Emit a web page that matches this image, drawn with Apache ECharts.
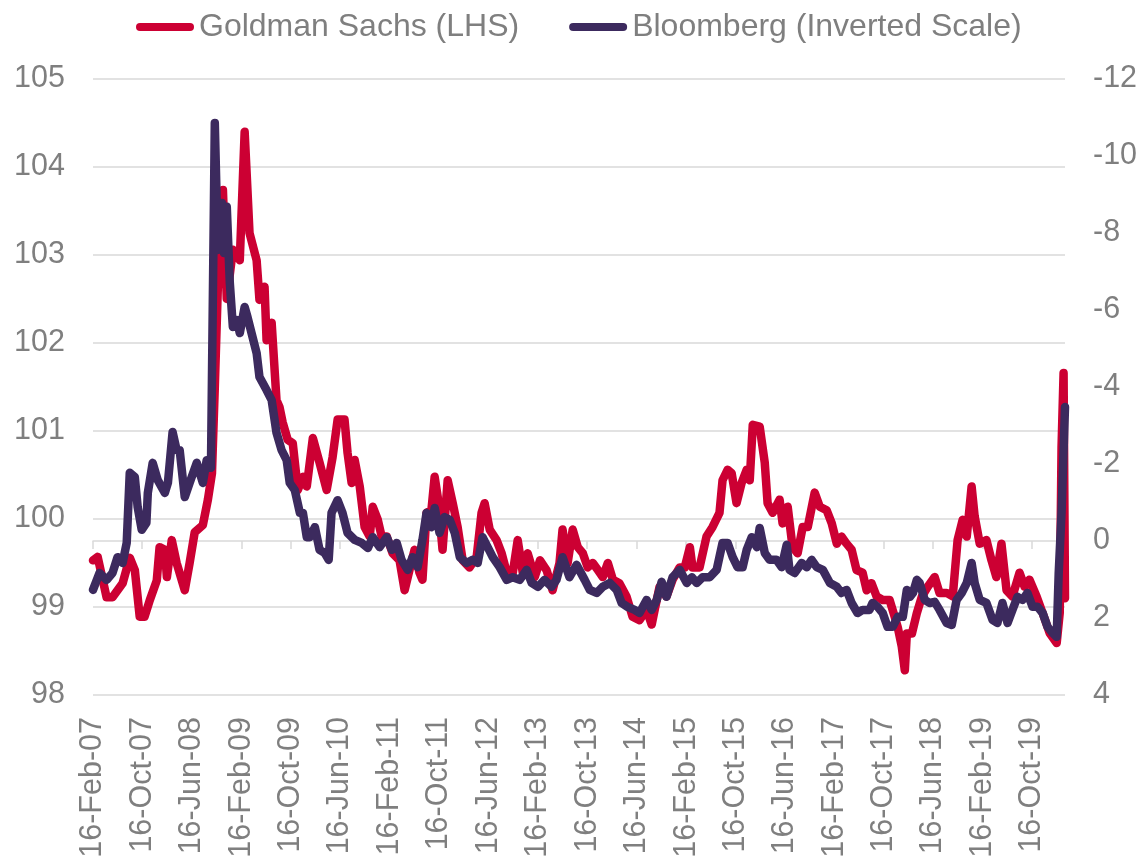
<!DOCTYPE html>
<html>
<head>
<meta charset="utf-8">
<script src="https://cdn.jsdelivr.net/npm/echarts@6/dist/echarts.min.js"></script>
<style>
html,body{margin:0;padding:0;background:#fff;}
#chart{width:1147px;height:862px;}
</style>
</head>
<body>
<div id="chart"></div>
<script>
// ---- Data ----
const seriesNames = ['Goldman Sachs (LHS)', 'Bloomberg (Inverted Scale)'];

const gsDates = ['2007-02-16','2007-03-11','2007-04-24','2007-05-23','2007-07-12','2007-08-16','2007-09-10','2007-10-04','2007-10-28','2007-11-23','2007-12-27','2008-01-10','2008-02-05','2008-02-15','2008-03-10','2008-04-03','2008-05-13','2008-06-06','2008-07-01','2008-08-10','2008-09-04','2008-09-24','2008-10-08','2008-10-23','2008-11-02','2008-11-17','2008-12-06','2009-01-05','2009-02-08','2009-03-04','2009-03-28','2009-05-02','2009-05-16','2009-06-10','2009-06-20','2009-07-15','2009-08-08','2009-08-23','2009-09-07','2009-10-02','2009-10-27','2009-11-21','2009-12-16','2010-01-04','2010-02-03','2010-03-08','2010-04-12','2010-05-11','2010-06-05','2010-07-09','2010-07-24','2010-08-13','2010-08-28','2010-09-22','2010-10-16','2010-11-10','2010-11-25','2010-12-20','2011-01-08','2011-02-02','2011-03-03','2011-04-06','2011-05-01','2011-05-25','2011-06-19','2011-07-13','2011-07-28','2011-08-17','2011-09-10','2011-09-26','2011-10-11','2011-11-04','2011-11-29','2011-12-24','2012-01-17','2012-02-11','2012-03-16','2012-04-20','2012-05-14','2012-05-29','2012-06-23','2012-07-27','2012-08-21','2012-09-15','2012-10-15','2012-11-08','2012-12-03','2012-12-27','2013-01-31','2013-02-26','2013-03-30','2013-04-29','2013-06-02','2013-06-17','2013-07-12','2013-08-06','2013-08-31','2013-09-25','2013-10-19','2013-11-13','2013-12-08','2014-01-01','2014-01-26','2014-02-20','2014-03-24','2014-04-28','2014-05-28','2014-07-01','2014-08-05','2014-08-30','2014-09-14','2014-10-08','2014-11-11','2014-12-11','2015-01-15','2015-02-09','2015-03-06','2015-03-19','2015-04-23','2015-05-27','2015-06-26','2015-07-30','2015-08-14','2015-09-08','2015-09-28','2015-10-22','2015-11-16','2015-12-11','2015-12-26','2016-01-10','2016-02-13','2016-03-09','2016-03-23','2016-04-17','2016-05-21','2016-06-05','2016-06-30','2016-07-24','2016-08-18','2016-09-12','2016-10-07','2016-11-10','2016-12-05','2017-01-08','2017-02-02','2017-02-27','2017-03-22','2017-04-16','2017-05-11','2017-06-04','2017-07-04','2017-07-24','2017-08-17','2017-09-11','2017-10-11','2017-11-14','2017-12-09','2017-12-24','2018-01-13','2018-01-28','2018-02-07','2018-03-04','2018-03-28','2018-04-22','2018-05-21','2018-06-24','2018-07-18','2018-08-22','2018-09-21','2018-10-15','2018-11-09','2018-11-29','2018-12-23','2019-01-07','2019-02-01','2019-03-06','2019-03-31','2019-04-24','2019-05-19','2019-06-13','2019-07-12','2019-08-16','2019-09-10','2019-10-04','2019-11-08','2019-12-08','2020-01-12','2020-02-15','2020-03-01','2020-03-10','2020-03-20','2020-03-27'];
const gsValues = [99.53,99.57,99.11,99.11,99.27,99.56,99.42,98.89,98.89,99.08,99.30,99.68,99.65,99.34,99.76,99.50,99.19,99.50,99.85,99.93,100.22,100.52,101.50,102.64,102.86,103.74,102.50,103.06,102.94,104.40,103.25,102.94,102.49,102.64,102.03,102.23,101.35,101.27,101.10,100.90,100.86,100.33,100.48,100.37,100.92,100.64,100.33,100.70,101.13,101.13,100.75,100.41,100.67,100.37,99.91,99.80,100.14,99.99,99.80,99.80,99.61,99.53,99.19,99.42,99.65,99.39,99.31,100.07,100.10,100.48,100.25,99.65,100.44,100.18,99.91,99.53,99.45,99.57,100.07,100.18,99.88,99.76,99.61,99.39,99.39,99.76,99.39,99.61,99.34,99.53,99.42,99.19,99.50,99.88,99.50,99.88,99.68,99.61,99.45,99.50,99.42,99.34,99.50,99.31,99.27,99.12,98.89,98.85,98.97,98.80,98.97,99.23,99.12,99.31,99.45,99.45,99.68,99.45,99.45,99.80,99.91,100.07,100.44,100.56,100.52,100.18,100.41,100.56,100.44,101.07,101.05,100.64,100.18,100.07,100.22,99.95,100.14,99.68,99.61,99.91,99.91,100.30,100.14,100.10,99.95,99.72,99.80,99.72,99.65,99.42,99.39,99.19,99.27,99.12,99.08,99.08,98.89,98.77,98.55,98.28,98.70,98.70,98.93,99.12,99.23,99.34,99.16,99.16,99.12,99.76,99.99,99.80,100.37,100.03,99.72,99.76,99.53,99.34,99.72,99.19,99.12,99.39,99.23,99.31,99.12,98.93,98.70,98.59,98.93,100.82,101.66,99.10];

const bbDates = ['2007-02-16','2007-03-20','2007-04-24','2007-05-23','2007-06-17','2007-07-12','2007-08-01','2007-08-16','2007-09-10','2007-09-24','2007-10-14','2007-11-06','2007-11-13','2007-12-07','2008-01-01','2008-02-05','2008-02-20','2008-03-14','2008-04-03','2008-04-18','2008-05-13','2008-06-06','2008-07-11','2008-08-10','2008-08-29','2008-09-19','2008-10-08','2008-10-23','2008-11-12','2008-11-22','2008-12-06','2008-12-21','2009-01-05','2009-01-25','2009-02-08','2009-03-04','2009-03-18','2009-04-07','2009-05-02','2009-05-16','2009-06-20','2009-07-15','2009-08-08','2009-09-02','2009-09-27','2009-10-12','2009-11-06','2009-12-01','2009-12-16','2010-01-04','2010-01-19','2010-02-13','2010-03-08','2010-04-02','2010-04-22','2010-05-06','2010-06-05','2010-06-29','2010-07-24','2010-08-28','2010-10-02','2010-11-01','2010-11-25','2010-12-29','2011-02-02','2011-02-27','2011-03-23','2011-04-16','2011-05-16','2011-06-09','2011-07-04','2011-07-28','2011-08-17','2011-09-10','2011-09-26','2011-10-20','2011-11-14','2011-12-09','2012-01-03','2012-01-28','2012-03-01','2012-03-31','2012-04-25','2012-05-19','2012-06-13','2012-07-08','2012-08-11','2012-09-15','2012-10-15','2012-11-18','2012-12-22','2013-01-16','2013-02-16','2013-03-20','2013-04-24','2013-05-18','2013-06-17','2013-07-21','2013-08-25','2013-10-04','2013-10-29','2013-12-02','2014-01-01','2014-02-05','2014-03-11','2014-04-04','2014-05-03','2014-06-07','2014-07-01','2014-08-05','2014-08-30','2014-09-24','2014-10-18','2014-11-11','2014-12-11','2015-01-15','2015-02-19','2015-03-16','2015-04-09','2015-05-08','2015-06-12','2015-07-16','2015-08-14','2015-09-08','2015-10-03','2015-10-27','2015-11-21','2015-12-11','2016-01-05','2016-01-30','2016-02-13','2016-03-09','2016-04-02','2016-05-06','2016-05-31','2016-06-25','2016-07-09','2016-08-03','2016-09-07','2016-10-02','2016-10-26','2016-11-20','2016-12-20','2017-01-24','2017-02-27','2017-03-22','2017-04-16','2017-05-11','2017-06-09','2017-07-04','2017-08-07','2017-08-22','2017-09-16','2017-10-11','2017-11-04','2017-11-29','2017-12-24','2018-01-18','2018-02-07','2018-02-22','2018-03-09','2018-03-28','2018-04-11','2018-05-06','2018-05-30','2018-06-24','2018-07-18','2018-08-22','2018-09-16','2018-10-10','2018-11-04','2018-11-29','2018-12-23','2019-01-07','2019-02-01','2019-03-06','2019-04-05','2019-04-29','2019-05-24','2019-06-18','2019-07-12','2019-08-06','2019-08-31','2019-09-24','2019-10-19','2019-11-13','2019-12-08','2020-01-01','2020-01-26','2020-02-15','2020-02-25','2020-03-10','2020-03-27'];
const bbValues = [1.27,0.83,1.01,0.83,0.42,0.57,0.05,-1.77,-1.66,-0.88,-0.29,-0.47,-1.25,-2.03,-1.58,-1.25,-1.51,-2.83,-2.36,-2.36,-1.14,-1.51,-2.03,-1.51,-2.10,-1.90,-10.86,-7.56,-8.78,-7.48,-8.68,-6.70,-5.56,-5.74,-5.40,-6.08,-5.82,-5.40,-4.88,-4.26,-3.92,-3.66,-2.81,-2.36,-2.10,-1.51,-1.32,-0.73,-0.73,-0.10,-0.10,-0.36,0.23,0.31,0.49,-0.73,-1.06,-0.73,-0.21,-0.03,0.05,0.18,-0.10,0.16,-0.10,0.23,0.05,0.49,0.75,0.42,0.68,-0.03,-0.73,-0.36,-0.86,-0.21,-0.62,-0.55,-0.21,0.42,0.57,0.49,0.57,-0.10,0.16,0.42,0.68,1.01,0.94,1.01,0.75,1.09,1.19,1.01,1.19,1.01,0.42,0.94,0.62,1.01,1.27,1.35,1.19,1.09,1.27,1.61,1.71,1.79,1.87,1.53,1.79,1.53,1.06,1.45,0.94,0.75,1.09,0.94,1.09,0.94,0.94,0.75,0.05,0.05,0.42,0.68,0.68,0.23,-0.10,0.16,-0.34,0.31,0.49,0.49,0.68,0.10,0.75,0.83,0.57,0.68,0.49,0.68,0.75,1.09,1.19,1.35,1.27,1.61,1.87,1.79,1.79,1.61,1.71,1.87,2.23,2.23,1.97,1.97,1.27,1.45,1.35,1.01,1.09,1.53,1.61,1.58,1.79,2.13,2.18,1.53,1.35,1.09,0.57,1.09,1.53,1.61,2.05,2.13,1.61,2.13,1.79,1.45,1.53,1.35,1.71,1.71,1.87,2.23,2.39,2.49,0.83,-0.73,-3.48];

// axis range and tick labels (16th of every 8th month)
const axisStart = '2007-02-16';
const axisEnd = '2020-03-27';
const tickDates = ['2007-02-16','2007-10-16','2008-06-16','2009-02-16','2009-10-16','2010-06-16','2011-02-16','2011-10-16','2012-06-16','2013-02-16','2013-10-16','2014-06-16','2015-02-16','2015-10-16','2016-06-16','2017-02-16','2017-10-16','2018-06-16','2019-02-16','2019-10-16'];
const monthNames = ['Jan','Feb','Mar','Apr','May','Jun','Jul','Aug','Sep','Oct','Nov','Dec'];

function ts(s) {
  const p = s.split('-').map(Number);
  return Date.UTC(p[0], p[1] - 1, p[2]);
}
function fmt(v) {
  const d = new Date(Math.round(v));
  return d.getUTCDate() + '-' + monthNames[d.getUTCMonth()] + '-' + String(d.getUTCFullYear()).slice(2);
}

const FONT = "'Liberation Sans', Arial, sans-serif";
const GREY = '#7f7f7f';
const GRID = '#d9d9d9';
const RED = '#cc0033';
const PURPLE = '#3c2a5e';

const chart = echarts.init(document.getElementById('chart'), null, {renderer: 'canvas'});
const tickTs = tickDates.map(ts);

chart.setOption({
  animation: false,
  backgroundColor: '#ffffff',
  textStyle: {fontFamily: FONT},
  legend: {
    left: 131,
    top: 6,
    itemWidth: 58,
    itemHeight: 8,
    itemGap: 50,
    icon: 'path://M4,0 L54,0 A4,4 0 0 1 54,8 L4,8 A4,4 0 0 1 4,0 Z',
    textStyle: {fontSize: 32, color: GREY, fontFamily: FONT},
    data: seriesNames
  },
  grid: {left: 93, right: 82, top: 79, bottom: 167, containLabel: false},
  xAxis: {
    type: 'value',
    min: ts(axisStart),
    max: ts(axisEnd),
    axisLine: {show: true, lineStyle: {color: GRID, width: 1.5}},
    axisTick: {show: true, customValues: tickTs, length: 8, lineStyle: {color: GRID, width: 1.5}},
    axisLabel: {
      customValues: tickTs,
      rotate: 90,
      margin: 22,
      fontSize: 30.5,
      color: GREY,
      fontFamily: FONT,
      formatter: function (v) { return fmt(v); }
    },
    splitLine: {show: false}
  },
  yAxis: [
    {
      type: 'value',
      min: 98, max: 105, interval: 1,
      axisLine: {show: false},
      axisTick: {show: false},
      axisLabel: {fontSize: 30.5, color: GREY, margin: 28, fontFamily: FONT},
      splitLine: {show: true, lineStyle: {color: GRID, width: 1.5}}
    },
    {
      type: 'value',
      inverse: true,
      min: -12, max: 4, interval: 2,
      axisLine: {show: false},
      axisTick: {show: false},
      axisLabel: {fontSize: 30.5, color: GREY, margin: 28, fontFamily: FONT},
      splitLine: {show: false}
    }
  ],
  series: [
    {
      name: seriesNames[0],
      type: 'line',
      yAxisIndex: 0,
      showSymbol: false,
      symbol: 'none',
      color: RED,
      lineStyle: {color: RED, width: 8.5, cap: 'round', join: 'round'},
      data: gsDates.map((d, i) => [ts(d), gsValues[i]]),
      z: 2
    },
    {
      name: seriesNames[1],
      type: 'line',
      yAxisIndex: 1,
      showSymbol: false,
      symbol: 'none',
      color: PURPLE,
      lineStyle: {color: PURPLE, width: 8.5, cap: 'round', join: 'round'},
      data: bbDates.map((d, i) => [ts(d), bbValues[i]]),
      z: 3
    }
  ]
});
</script>
</body>
</html>
